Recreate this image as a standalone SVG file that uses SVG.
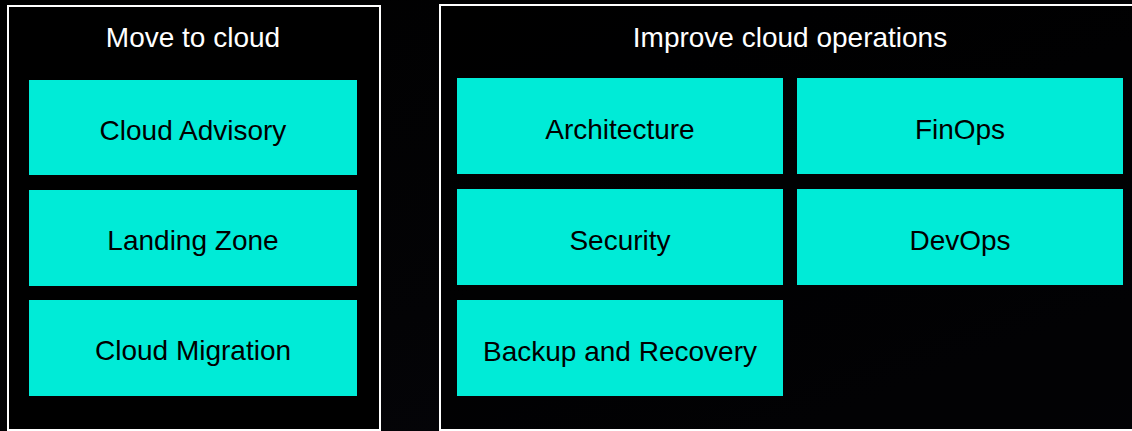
<svg xmlns="http://www.w3.org/2000/svg" width="1132" height="431" viewBox="0 0 1132 431">
  <defs>
    <linearGradient id="bg" x1="0" y1="0" x2="1" y2="1">
      <stop offset="0" stop-color="#000000"/>
      <stop offset="0.55" stop-color="#030305"/>
      <stop offset="1" stop-color="#06060d"/>
    </linearGradient>
  </defs>
  <style>
    .frame { fill: none; stroke: #ffffff; stroke-width: 2; }
    .tile { fill: #00ebd7; }
    .title { font-family: "Liberation Sans", Arial, sans-serif; font-size: 28px; fill: #ffffff; text-anchor: middle; }
    .label { font-family: "Liberation Sans", Arial, sans-serif; font-size: 28px; fill: #000000; text-anchor: middle; }
  </style>

  <rect width="1132" height="431" fill="url(#bg)"/>
  <rect x="8" y="6" width="372" height="424" fill="#000000"/>
  <rect x="440" y="5" width="720" height="425" fill="#000000" opacity="0.6"/>

  <g id="move-to-cloud">
    <rect class="frame" x="8" y="6" width="372" height="424"/>
    <text class="title" x="193" y="47">Move to cloud</text>
  </g>
  <g id="cloud-advisory">
    <rect class="tile" x="29" y="80" width="328" height="95"/>
    <text class="label" x="193" y="140">Cloud Advisory</text>
  </g>
  <g id="landing-zone">
    <rect class="tile" x="29" y="190" width="328" height="96"/>
    <text class="label" x="193" y="250">Landing Zone</text>
  </g>
  <g id="cloud-migration">
    <rect class="tile" x="29" y="300" width="328" height="96"/>
    <text class="label" x="193" y="360">Cloud Migration</text>
  </g>

  <g id="improve-cloud-operations">
    <rect class="frame" x="440" y="5" width="720" height="425"/>
    <text class="title" x="790" y="47">Improve cloud operations</text>
  </g>
  <g id="architecture">
    <rect class="tile" x="457" y="78" width="326" height="96"/>
    <text class="label" x="620" y="139">Architecture</text>
  </g>
  <g id="finops">
    <rect class="tile" x="797" y="78" width="326" height="96"/>
    <text class="label" x="960" y="139">FinOps</text>
  </g>
  <g id="security">
    <rect class="tile" x="457" y="189" width="326" height="96"/>
    <text class="label" x="620" y="250">Security</text>
  </g>
  <g id="devops">
    <rect class="tile" x="797" y="189" width="326" height="96"/>
    <text class="label" x="960" y="250">DevOps</text>
  </g>
  <g id="backup-and-recovery">
    <rect class="tile" x="457" y="300" width="326" height="96"/>
    <text class="label" x="620" y="361">Backup and Recovery</text>
  </g>

  <g id="connectors"/>
</svg>
